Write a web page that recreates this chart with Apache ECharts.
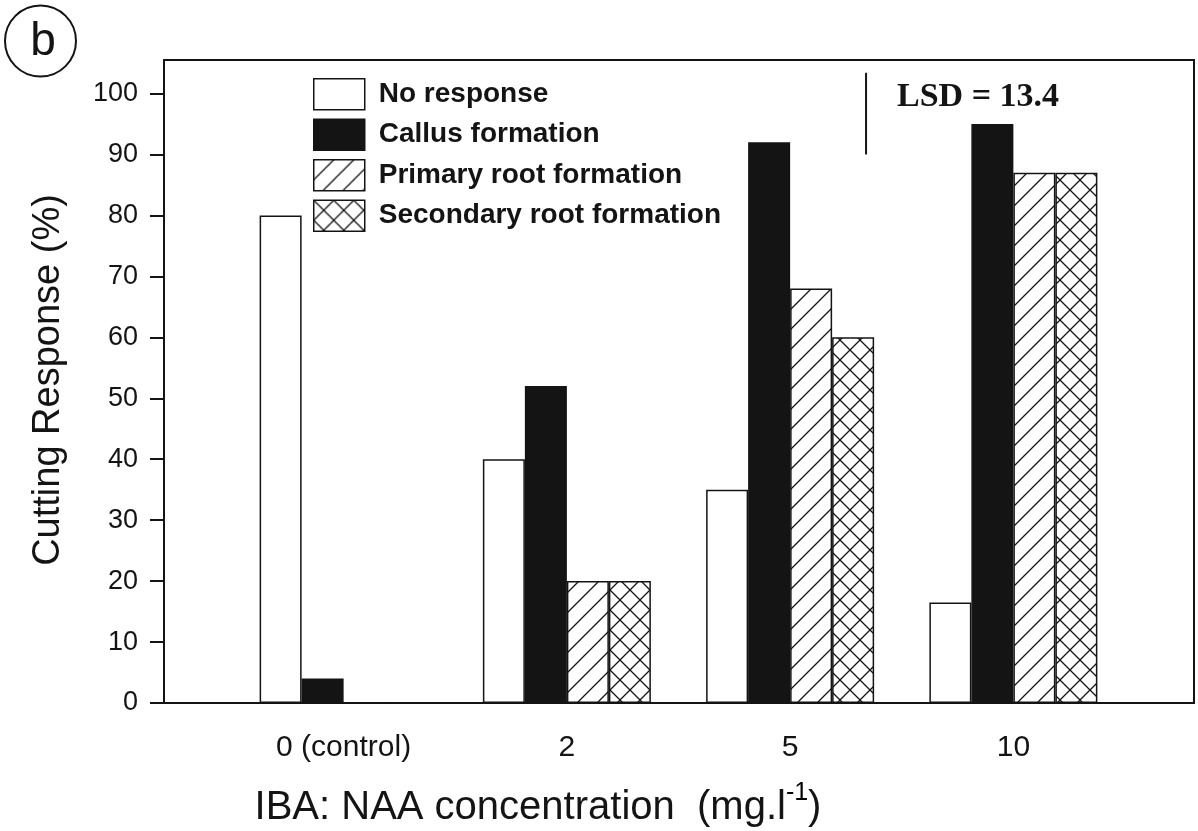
<!DOCTYPE html>
<html><head><meta charset="utf-8">
<script src="https://cdn.jsdelivr.net/npm/echarts@6/dist/echarts.min.js"></script>
<style>html,body{margin:0;padding:0;background:#fff}#c{width:1198px;height:831px}</style>
</head><body><div id="c"></div>
<script>
// ---- data ----
const categories = ['0 (control)', '2', '5', '10'];
const seriesNames = ['No response', 'Callus formation', 'Primary root formation', 'Secondary root formation'];
const noResponse = [80, 40, 35, 16.5];
const callus = [4, 52, 92, 95];
const primaryRoot = [0, 20, 68, 87];
const secondaryRoot = [0, 20, 60, 87];
const yTicks = [0, 10, 20, 30, 40, 50, 60, 70, 80, 90, 100];
const lsdValue = 13.4;
const lsdBase = 90;
const panelLetter = 'b';

// ---- styles ----
const INK = '#141414';
const SANS = '"Liberation Sans", Arial, Helvetica, sans-serif';
const SERIF = '"Liberation Serif", "Times New Roman", serif';
const Y_MAX = 105.5;

function hatch(kind) {
  const s = 20, c = document.createElement('canvas');
  c.width = s; c.height = s;
  const g = c.getContext('2d');
  g.fillStyle = '#fff'; g.fillRect(0, 0, s, s);
  g.strokeStyle = INK; g.lineWidth = 1.3;
  g.beginPath();
  g.moveTo(-2, s + 2); g.lineTo(s + 2, -2);
  g.moveTo(-2, 2); g.lineTo(2, -2);
  g.moveTo(s - 2, s + 2); g.lineTo(s + 2, s - 2);
  if (kind === 'cross') {
    g.moveTo(-2, -2); g.lineTo(s + 2, s + 2);
    g.moveTo(s - 2, -2); g.lineTo(s + 2, 2);
    g.moveTo(-2, s - 2); g.lineTo(2, s + 2);
  }
  g.stroke();
  return c;
}

const fills = ['#ffffff', INK, { image: hatch('single'), repeat: 'repeat' }, { image: hatch('cross'), repeat: 'repeat' }];
const values = [noResponse, callus, primaryRoot, secondaryRoot];

const chart = echarts.init(document.getElementById('c'), null, { renderer: 'canvas' });

const barSeries = seriesNames.map((name, i) => ({
  name: name,
  type: 'bar',
  xAxisIndex: 1,
  yAxisIndex: 1,
  data: values[i],
  barWidth: 42,
  barGap: '0%',
  itemStyle: { color: fills[i], borderColor: INK, borderWidth: 1.5 },
  emphasis: { disabled: true },
  z: 3
}));

const option = {
  backgroundColor: '#ffffff',
  animation: false,
  textStyle: { fontFamily: SANS, color: INK },
  grid: [
    { left: 164, top: 60, width: 1030, height: 643, show: true, borderColor: INK, borderWidth: 2, backgroundColor: 'transparent', containLabel: false },
    { left: 232, top: 60, width: 893, height: 643, containLabel: false }
  ],
  xAxis: [
    { gridIndex: 0, type: 'value', min: 0, max: 1, axisLine: { show: true, onZero: false, lineStyle: { color: INK, width: 2 } },
      axisTick: { show: false }, axisLabel: { show: false }, splitLine: { show: false } },
    { gridIndex: 1, type: 'category', data: categories, axisLine: { show: false }, axisTick: { show: false },
      axisLabel: { color: INK, fontSize: 30, fontFamily: SANS, margin: 30 }, splitLine: { show: false } }
  ],
  yAxis: [
    { gridIndex: 0, type: 'value', min: 0, max: Y_MAX, interval: 10,
      axisLine: { show: true, lineStyle: { color: INK, width: 2 } },
      axisTick: { show: true, length: 14, inside: false, lineStyle: { color: INK, width: 2 }, customValues: yTicks },
      axisLabel: { color: INK, fontSize: 27, fontFamily: SANS, margin: 26, customValues: yTicks },
      splitLine: { show: false } },
    { gridIndex: 1, type: 'value', min: 0, max: Y_MAX, show: false, splitLine: { show: false } }
  ],
  legend: {
    orient: 'vertical',
    left: 313, top: 78,
    padding: 0,
    itemWidth: 51, itemHeight: 31, itemGap: 8,
    icon: 'rect',
    data: seriesNames,
    itemStyle: { borderColor: INK, borderWidth: 1.5 },
    textStyle: { fontSize: 28, fontWeight: 'bold', color: INK, fontFamily: SANS, padding: [0, 0, 0, 9] },
    selectedMode: false
  },
  series: barSeries.concat([
    {
      type: 'line',
      xAxisIndex: 0, yAxisIndex: 0,
      data: [[0.6816, lsdBase], [0.6816, lsdBase + lsdValue]],
      symbol: 'none',
      lineStyle: { color: INK, width: 2 },
      silent: true, z: 4
    }
  ]),
  graphic: [
    { type: 'circle', shape: { cx: 40.5, cy: 41, r: 35.5 }, style: { fill: 'none', stroke: INK, lineWidth: 2 } },
    { type: 'text', x: 43, y: 42, style: { text: panelLetter, fontSize: 46, fontFamily: SANS, fill: INK, align: 'center', verticalAlign: 'middle' } },
    { type: 'text', x: 897, y: 97, style: { text: 'LSD = ' + lsdValue.toFixed(1), fontSize: 34, fontWeight: 'bold', fontFamily: SERIF, fill: INK, align: 'left', verticalAlign: 'middle' } },
    { type: 'text', x: 49, y: 380, rotation: Math.PI / 2,
      style: { text: 'Cutting Response (%)', fontSize: 38, fontFamily: SANS, fill: INK, align: 'center', verticalAlign: 'middle' } },
    { type: 'text', x: 538, y: 808,
      style: { text: '{a|IBA: NAA concentration  (mg.l}{s|-1}{a|)}', align: 'center', verticalAlign: 'middle',
        rich: { a: { fontSize: 40, fontFamily: SANS, fill: INK, color: INK },
                s: { fontSize: 25, fontFamily: SANS, color: INK, padding: [0, 0, 30, 0] } } } }
  ]
};
chart.setOption(option);
</script>
</body></html>
